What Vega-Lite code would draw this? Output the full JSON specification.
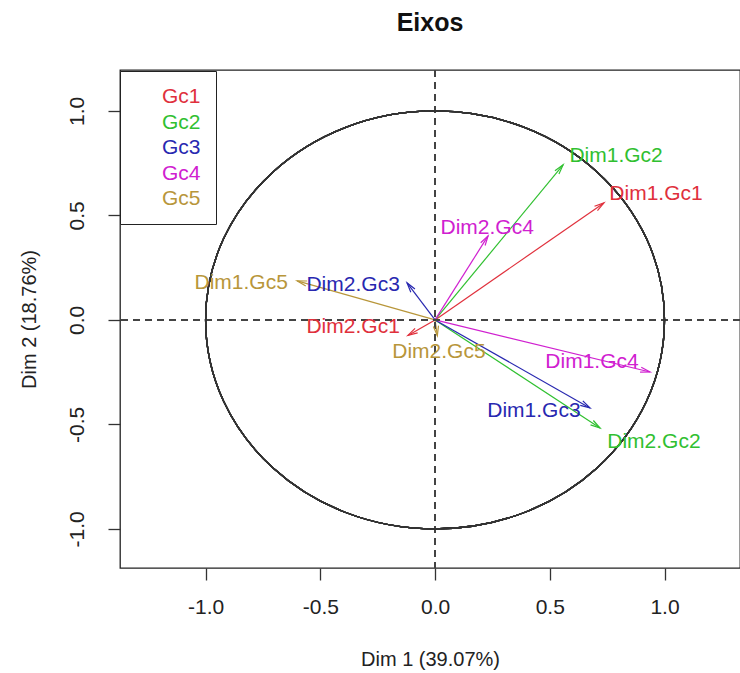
{
  "$schema": "https://vega.github.io/schema/vega-lite/v6.json",
  "width": 620,
  "height": 498,
  "autosize": {"type": "none"},
  "padding": {"left": 120, "top": 70, "right": 0, "bottom": 105},
  "background": "white",
  "title": {"text": "Eixos", "fontSize": 25, "fontWeight": "bold", "font": "Liberation Sans", "color": "#111", "offset": 33, "anchor": "middle"},
  "config": {
    "view": {"stroke": "#222", "strokeWidth": 1.3},
    "font": "Liberation Sans",
    "axis": {"grid": false, "domain": false, "tickSize": 12, "tickColor": "#333", "tickWidth": 1.3, "labelFontSize": 21, "labelColor": "#222", "titleFontSize": 20, "titleFontWeight": "normal", "titleColor": "#222", "labelFont": "Liberation Sans", "titleFont": "Liberation Sans",
      "labelExpr": "datum.value < 0 ? '-' + format(-datum.value, '.1f') : format(datum.value, '.1f')"}
  },
  "data": {"values": [
    {"name": "Dim1.Gc1", "group": "Gc1", "x": 0.736, "y": 0.56, "lx": 0.963, "ly": 0.603},
    {"name": "Dim2.Gc1", "group": "Gc1", "x": -0.118, "y": -0.074, "lx": -0.357, "ly": -0.033},
    {"name": "Dim1.Gc2", "group": "Gc2", "x": 0.558, "y": 0.742, "lx": 0.789, "ly": 0.785},
    {"name": "Dim2.Gc2", "group": "Gc2", "x": 0.719, "y": -0.517, "lx": 0.954, "ly": -0.584},
    {"name": "Dim1.Gc3", "group": "Gc3", "x": 0.675, "y": -0.421, "lx": 0.431, "ly": -0.435},
    {"name": "Dim2.Gc3", "group": "Gc3", "x": -0.122, "y": 0.177, "lx": -0.357, "ly": 0.167},
    {"name": "Dim1.Gc4", "group": "Gc4", "x": 0.937, "y": -0.249, "lx": 0.684, "ly": -0.201},
    {"name": "Dim2.Gc4", "group": "Gc4", "x": 0.231, "y": 0.402, "lx": 0.227, "ly": 0.44},
    {"name": "Dim1.Gc5", "group": "Gc5", "x": -0.601, "y": 0.187, "lx": -0.845, "ly": 0.177},
    {"name": "Dim2.Gc5", "group": "Gc5", "x": 0.01, "y": -0.075, "lx": 0.017, "ly": -0.153}
  ]},
  "layer": [
    {
      "mark": {"type": "rule", "strokeWidth": 1.2},
      "encoding": {
        "x": {"field": "x", "type": "quantitative", "scale": {"domain": [-1.373, 1.329], "nice": false, "zero": false},
          "axis": {"values": [-1, -0.5, 0, 0.5, 1], "title": "Dim 1 (39.07%)", "labelPadding": 16, "titlePadding": 32}},
        "y": {"field": "y", "type": "quantitative", "scale": {"domain": [-1.187, 1.196], "nice": false, "zero": false},
          "axis": {"values": [-1, -0.5, 0, 0.5, 1], "title": "Dim 2 (18.76%)", "labelAngle": -90, "labelPadding": 21, "titlePadding": 27}},
        "x2": {"datum": 0}, "y2": {"datum": 0},
        "color": {"field": "group", "type": "nominal", "scale": {"domain": ["Gc1", "Gc2", "Gc3", "Gc4", "Gc5"], "range": ["#E0303C", "#30C030", "#2828B0", "#D020D0", "#B8963A"]},
          "legend": {"title": null, "orient": "none", "legendX": 0, "legendY": 1, "strokeColor": "#222", "fillColor": "white", "padding": 15, "symbolSize": 400, "labelOffset": 5, "labelFontSize": 21, "labelFont": "Liberation Sans", "rowPadding": 4.5,
            "encode": {"symbols": {"update": {"opacity": {"value": 0}}}, "labels": {"update": {"fill": {"scale": "color", "field": "value"}}}}}}
      }
    },
    {
      "mark": {"type": "rule", "color": "#444", "strokeDash": [7, 5], "strokeWidth": 1.3},
      "encoding": {"x": {"datum": 0, "type": "quantitative"}}
    },
    {
      "mark": {"type": "rule", "color": "#444", "strokeDash": [7, 5], "strokeWidth": 1.3},
      "encoding": {"y": {"datum": 0, "type": "quantitative"}}
    },
    {
      "mark": {"type": "point", "shape": "M -1 0 A 1 0.9108 0 1 1 1 0 A 1 0.9108 0 1 1 -1 0 Z", "size": 210600, "filled": false, "stroke": "#333", "strokeWidth": 1.3, "opacity": 1},
      "encoding": {"x": {"datum": 0, "type": "quantitative"}, "y": {"datum": 0, "type": "quantitative"}}
    },
    {
      "mark": {"type": "point", "shape": "M -0.259 0.966 L 0 0 L 0.259 0.966", "size": 400, "filled": false, "strokeWidth": 1.2, "opacity": 1,
        "angle": {"expr": "atan2(datum.x * 229.46, datum.y * 209.0) * 180 / PI"}},
      "encoding": {
        "x": {"field": "x", "type": "quantitative"}, "y": {"field": "y", "type": "quantitative"},
        "color": {"field": "group", "type": "nominal"}
      }
    },
    {
      "mark": {"type": "text", "fontSize": 21, "font": "Liberation Sans", "align": "center", "baseline": "middle"},
      "encoding": {
        "x": {"field": "lx", "type": "quantitative", "axis": {"values": [-1, -0.5, 0, 0.5, 1], "title": "Dim 1 (39.07%)", "labelPadding": 16, "titlePadding": 32}},
        "y": {"field": "ly", "type": "quantitative", "axis": {"values": [-1, -0.5, 0, 0.5, 1], "title": "Dim 2 (18.76%)", "labelAngle": -90, "labelPadding": 21, "titlePadding": 27}},
        "text": {"field": "name"},
        "color": {"field": "group", "type": "nominal"}
      }
    }
  ]
}
